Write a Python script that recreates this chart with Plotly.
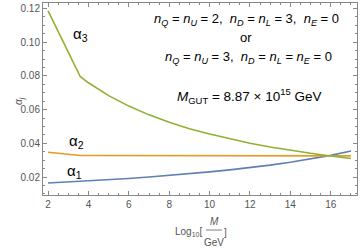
import plotly.graph_objects as go

log_m = [2, 3.6, 4, 5, 6, 7, 8, 9, 10, 11, 12, 13, 14, 15, 16, 17]
alpha1 = [0.0165, 0.0175, 0.0178, 0.0185, 0.0192, 0.0201, 0.0210, 0.0220, 0.0231,
          0.0243, 0.0256, 0.0271, 0.0288, 0.0308, 0.0329, 0.0355]
alpha2 = [0.0347, 0.0328, 0.0328, 0.0328, 0.0328, 0.0328, 0.0328, 0.0328, 0.0328,
          0.0328, 0.0328, 0.0328, 0.0327, 0.0327, 0.0327, 0.0326]
alpha3 = [0.1185, 0.0795, 0.0759, 0.0683, 0.0621, 0.0569, 0.0525, 0.0487, 0.0455,
          0.0426, 0.0401, 0.0379, 0.0359, 0.0341, 0.0325, 0.0310]

x_ticks = [2, 4, 6, 8, 10, 12, 14, 16]
y_ticks = [0.02, 0.04, 0.06, 0.08, 0.10, 0.12]
y_tick_labels = ["0.02", "0.04", "0.06", "0.08", "0.10", "0.12"]

BLUE = "#5E81B5"
ORANGE = "#E19C24"
GREEN = "#8FB032"
FONT = "Liberation Sans, Arial, sans-serif"

fig = go.Figure()
for ys, c in [(alpha1, BLUE), (alpha2, ORANGE), (alpha3, GREEN)]:
    fig.add_trace(go.Scatter(x=log_m, y=ys, mode="lines", line=dict(color=c, width=1.6),
                             showlegend=False, hoverinfo="skip"))

axis_common = dict(showgrid=False, zeroline=False, showline=True, linecolor="#888888",
                   linewidth=1, mirror="ticks", ticks="inside", ticklen=4, tickcolor="#888888",
                   tickfont=dict(family=FONT, size=10, color="#555555"))

fig.update_xaxes(range=[1.75, 17.3], tickvals=x_ticks,
                 minor=dict(dtick=0.5, ticks="inside", ticklen=2, tickcolor="#888888"),
                 **axis_common)
fig.update_yaxes(range=[0.0094, 0.1232], tickvals=y_ticks, ticktext=y_tick_labels,
                 minor=dict(dtick=0.005, ticks="inside", ticklen=2, tickcolor="#888888"),
                 **axis_common)

ann = []
def text(x, y, t, size=13, xref="paper", yref="paper", xa="center", ya="middle", angle=0, color="black"):
    ann.append(dict(x=x, y=y, xref=xref, yref=yref, text=t, showarrow=False,
                    xanchor=xa, yanchor=ya, textangle=angle,
                    font=dict(family=FONT, size=size, color=color)))

text(3.6, 0.1045, "α<sub>3</sub>", size=15, xref="x", yref="y")
text(3.4, 0.0413, "α<sub>2</sub>", size=15, xref="x", yref="y")
text(3.3, 0.0233, "α<sub>1</sub>", size=15, xref="x", yref="y")

W, H = 360, 250
fig.update_layout(width=W, height=H, margin=dict(l=43, r=3, t=3, b=55),
                  paper_bgcolor="white", plot_bgcolor="white")

L, R, T, B = 43, 357, 3, 195
def pp(xp, yp):
    return (xp - L) / (R - L), (B - yp) / (B - T)

x0, y0 = pp(246, 20)
text(x0, y0, "<i>n</i><sub><i>Q</i></sub> = <i>n</i><sub><i>U</i></sub> = 2,  <i>n</i><sub><i>D</i></sub> = <i>n</i><sub><i>L</i></sub> = 3,  <i>n</i><sub><i>E</i></sub> = 0", size=13)
x0, y0 = pp(246, 38)
text(x0, y0, "or", size=13)
x0, y0 = pp(248, 57)
text(x0, y0, "<i>n</i><sub><i>Q</i></sub> = <i>n</i><sub><i>U</i></sub> = 3,  <i>n</i><sub><i>D</i></sub> = <i>n</i><sub><i>L</i></sub> = <i>n</i><sub><i>E</i></sub> = 0", size=13)
x0, y0 = pp(249, 96)
text(x0, y0, "<i>M</i><sub>GUT</sub> = 8.87 × 10<sup>15</sup> GeV", size=13.5)

x0, y0 = pp(19, 101)
text(x0, y0, "<i>α<sub>j</sub></i>", size=10, angle=-90, color="#555555")

x0, y0 = pp(188, 232)
text(x0, y0, "Log<sub>10</sub>[", size=10, color="#555555")
x0, y0 = pp(214, 221)
text(x0, y0, "<i>M</i>", size=10, color="#555555")
x0, y0 = pp(214, 242)
text(x0, y0, "GeV", size=10, color="#555555")
x0, y0 = pp(225, 232)
text(x0, y0, "]", size=10, color="#555555")
fig.update_layout(annotations=ann)

lx0, ly = pp(206, 230)
lx1, _ = pp(222, 230)
fig.add_shape(type="line", xref="paper", yref="paper", x0=lx0, x1=lx1, y0=ly, y1=ly,
              line=dict(color="#aaaaaa", width=1.5))

fig.write_html("out.html", config={"displayModeBar": False},
               post_script="document.body.style.margin='0';document.body.style.overflow='hidden';")
